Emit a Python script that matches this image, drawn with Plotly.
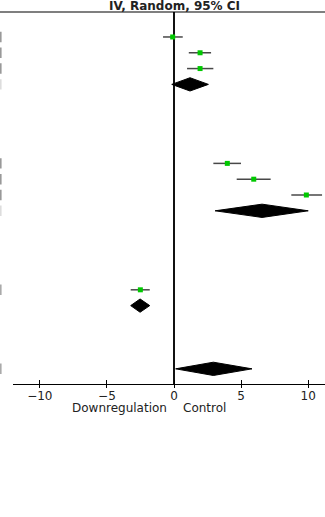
import plotly.graph_objects as go

# ---- data ----
study_rows = [0, 1, 2, 8, 9, 10, 16]
study_est = [-0.1, 1.94, 1.94, 3.97, 5.94, 9.86, -2.51]
study_lo = [-0.82, 1.1, 0.97, 2.93, 4.67, 8.74, -3.23]
study_hi = [0.65, 2.76, 2.93, 4.99, 7.2, 11.03, -1.81]

pooled_rows = [3, 11, 17, 21]
pooled_est = [1.19, 6.56, -2.53, 2.93]
pooled_lo = [-0.17, 3.06, -3.23, 0.12]
pooled_hi = [2.56, 10.0, -1.81, 5.81]

tick_vals = [-10, -5, 0, 5, 10]
tick_text = ["\u221210", "\u22125", "0", "5", "10"]

left_mark_rows = [0, 1, 2, 3, 8, 9, 10, 11, 16, 21]
left_mark_colors = ["#999", "#999", "#999", "#ddd", "#999", "#999", "#999", "#ddd", "#aaa", "#aaa"]

title_text = "IV, Random, 95% CI"
favours_left = "Downregulation"
favours_right = "Control"

# ---- figure ----
W, H = 325, 517
ML, MR, MT, MB = 13, 0, 12, 133
plot_w = W - ML - MR
plot_h = H - MT - MB

fig = go.Figure()

# study CIs + squares
fig.add_trace(go.Scatter(
    x=study_est, y=study_rows, mode="markers",
    marker=dict(symbol="square", size=5, color="#00c800", line=dict(width=0)),
    error_x=dict(type="data", symmetric=False,
                 array=[h - e for h, e in zip(study_hi, study_est)],
                 arrayminus=[e - l for e, l in zip(study_est, study_lo)],
                 width=0, thickness=1.5, color="#484848"),
    showlegend=False, hoverinfo="skip", cliponaxis=False,
))

# pooled diamonds
half_h = 0.42
for r, e, lo, hi in zip(pooled_rows, pooled_est, pooled_lo, pooled_hi):
    fig.add_trace(go.Scatter(
        x=[lo, e, hi, e, lo], y=[r, r - half_h, r, r + half_h, r],
        mode="lines", fill="toself", fillcolor="black",
        line=dict(color="black", width=1), showlegend=False, hoverinfo="skip",
    ))

# invisible trace carrying the secondary (downward tick) axis
fig.add_trace(go.Scatter(x=tick_vals, y=[0] * len(tick_vals), xaxis="x2", yaxis="y",
                         mode="markers", marker=dict(opacity=0), showlegend=False,
                         hoverinfo="skip"))

x_left = -12.0
x_right = 11.25

fig.update_layout(
    width=W, height=H,
    margin=dict(l=ML, r=MR, t=MT, b=MB, pad=0),
    paper_bgcolor="white", plot_bgcolor="white",
    font=dict(family="DejaVu Sans", color="#222"),
    xaxis=dict(range=[x_left, x_right], showgrid=False,
               zeroline=True, zerolinecolor="#111", zerolinewidth=1.5,
               showline=True, linecolor="black", linewidth=1.2,
               tickmode="array", tickvals=tick_vals, ticktext=tick_text,
               ticks="inside", ticklen=4, tickwidth=1, tickcolor="black",
               tickfont=dict(size=12, family="DejaVu Sans", color="#222")),
    xaxis2=dict(range=[x_left, x_right], overlaying="x", anchor="y", side="bottom",
                showgrid=False, zeroline=False, showline=False,
                tickmode="array", tickvals=tick_vals, showticklabels=False,
                ticks="outside", ticklen=3, tickwidth=1, tickcolor="black"),
    yaxis=dict(range=[21.96, -1.58], showgrid=False, zeroline=False,
               showticklabels=False, showline=False, ticks=""),
)

# top rule
fig.add_shape(type="line", xref="paper", yref="paper", x0=-ML / plot_w, x1=1, y0=1, y1=1,
              line=dict(color="black", width=1.2))

# left clipped marks
for r, c in zip(left_mark_rows, left_mark_colors):
    fig.add_shape(type="line", xref="paper", yref="y", x0=-(ML - 0.8) / plot_w, x1=-(ML - 0.8) / plot_w,
                  y0=r - 0.33, y1=r + 0.33, line=dict(color=c, width=1.6))

fig.add_annotation(text="<b>" + title_text + "</b>", x=0, xref="x", y=1, yref="paper",
                   xanchor="center", yanchor="bottom", showarrow=False,
                   font=dict(size=12, family="DejaVu Sans", color="#222"), yshift=-3)
fig.add_annotation(text=favours_left, x=-0.4, xref="x", y=-24 / plot_h, yref="paper",
                   xanchor="right", yanchor="middle", showarrow=False,
                   font=dict(size=12, family="DejaVu Sans", color="#222"))
fig.add_annotation(text=favours_right, x=0.5, xref="x", y=-24 / plot_h, yref="paper",
                   xanchor="left", yanchor="middle", showarrow=False,
                   font=dict(size=12, family="DejaVu Sans", color="#222"))

fig.write_html("out.html")
